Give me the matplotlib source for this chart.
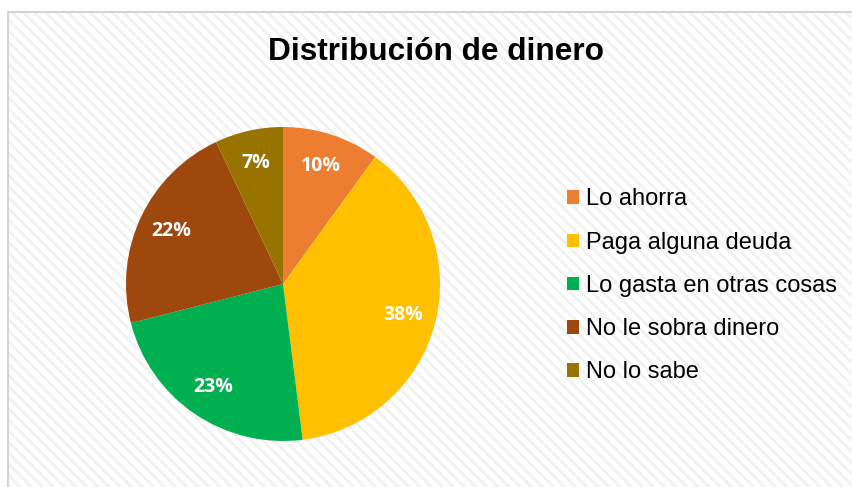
import matplotlib.pyplot as plt
from matplotlib.patches import Rectangle

labels = ['Lo ahorra', 'Paga alguna deuda', 'Lo gasta en otras cosas',
          'No le sobra dinero', 'No lo sabe']
values = [10, 38, 23, 22, 7]
colors = ['#ED7D31', '#FFC000', '#00B050', '#9E480E', '#997300']

plt.rcParams['hatch.linewidth'] = 2.0

fig = plt.figure(figsize=(8.52, 4.87), dpi=100)
fig.patch.set_facecolor('white')

# chart area with light diagonal stripes
bg = Rectangle((8 / 852, 0), 1, 1 - 12 / 487, transform=fig.transFigure,
               facecolor='white', edgecolor='#f1f1f1', hatch='\\\\\\',
               linewidth=0, zorder=-2)
fig.patches.append(bg)
border = Rectangle((8 / 852, -0.01), 1, 1 - 12 / 487 + 0.01, transform=fig.transFigure,
                   facecolor='none', edgecolor='#d4d4d4', linewidth=1.5, zorder=-1)
fig.patches.append(border)

fig.text(436 / 852, 1 - 52 / 487, 'Distribución de dinero', ha='center', va='center',
         fontsize=22.8, fontweight='bold', family='Liberation Sans')

# pie: center ~ (283, 284) px, radius ~ 157 px
r = 157
cx, cy = 283, 487 - 284
ax = fig.add_axes([(cx - r) / 852, (cy - r) / 487, 2 * r / 852, 2 * r / 487])
ax.patch.set_alpha(0)
wedges, texts, autotexts = ax.pie(values, colors=colors, startangle=90,
                                  counterclock=False, autopct='%d%%',
                                  pctdistance=0.79, radius=1,
                                  wedgeprops=dict(linewidth=0))
for t in autotexts:
    t.set_color('white')
    t.set_fontsize(14)
    t.set_fontweight('bold')
    t.set_family('Open Sans')
ax.set_xlim(-1, 1)
ax.set_ylim(-1, 1)
ax.set_aspect('equal')

leg = fig.legend(wedges, labels, loc='upper left',
                 bbox_to_anchor=(558 / 852, 1 - 179 / 487),
                 frameon=False, prop={'family': 'Liberation Sans', 'size': 17},
                 handlelength=0.5, handleheight=0.5, handletextpad=0.3,
                 labelspacing=0.9, borderaxespad=0)

fig.savefig('out.png', dpi=100)
